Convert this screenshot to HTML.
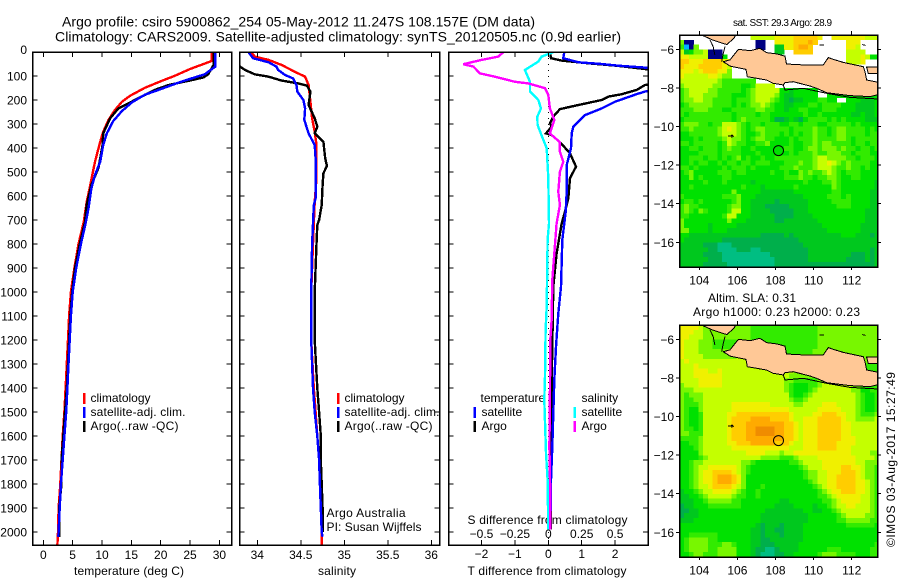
<!DOCTYPE html>
<html>
<head>
<meta charset="utf-8">
<title>Argo profile</title>
<style>
html,body{margin:0;padding:0;background:#fff;}
svg{display:block;}
text{font-family:"Liberation Sans",sans-serif;font-size:12px;fill:#000;}
</style>
</head>
<body>
<svg id="chart" width="900" height="580" viewBox="0 0 900 580" xmlns="http://www.w3.org/2000/svg">
<rect width="900" height="580" fill="#fff"/>
<defs>
<clipPath id="clip-temp"><rect x="32.5" y="52" width="199" height="493"/></clipPath>
<clipPath id="clip-sal"><rect x="239.5" y="52" width="200" height="493"/></clipPath>
<clipPath id="clip-diff"><rect x="448.5" y="52" width="199.5" height="493"/></clipPath>
<clipPath id="clip-sst"><rect x="679.5" y="35" width="198" height="232"/></clipPath>
<clipPath id="clip-sla"><rect x="679.5" y="325" width="198" height="232"/></clipPath>
</defs>
<text x="62" y="26.5" style="font-size:14px" textLength="473">Argo profile: csiro 5900862_254 05-May-2012 11.247S 108.157E (DM data)</text>
<text x="55" y="41.5" style="font-size:14px" textLength="566">Climatology: CARS2009. Satellite-adjusted climatology: synTS_20120505.nc (0.9d earlier)</text>
<text x="74" y="575" textLength="110">temperature (deg C)</text>
<text x="318" y="575" textLength="38">salinity</text>
<text x="467.5" y="575" textLength="159">T difference from climatology</text>
<text x="467.5" y="524" textLength="160">S difference from climatology</text>
<text x="90.5" y="402">climatology</text>
<text x="90.5" y="416" textLength="95">satellite-adj. clim.</text>
<text x="90.5" y="430" textLength="88">Argo(..raw -QC)</text>
<text x="344.5" y="402">climatology</text>
<text x="344.5" y="416" textLength="95">satellite-adj. clim.</text>
<text x="344.5" y="430" textLength="88">Argo(..raw -QC)</text>
<text x="326.5" y="517" textLength="79">Argo Australia</text>
<text x="326.5" y="531" textLength="95">PI: Susan Wijffels</text>
<text x="480.5" y="402">temperature</text>
<text x="481.5" y="416">satellite</text>
<text x="481.5" y="430">Argo</text>
<text x="581.5" y="402">salinity</text>
<text x="581.5" y="416">satellite</text>
<text x="581.5" y="430">Argo</text>
<text x="733" y="26" style="font-size:10px" textLength="99">sat. SST: 29.3 Argo: 28.9</text>
<text x="708" y="302" textLength="88">Altim. SLA: 0.31</text>
<text x="693" y="316" textLength="167">Argo h1000: 0.23 h2000: 0.23</text>
<text transform="translate(895,547) rotate(-90)" textLength="175">©IMOS 03-Aug-2017 15:27:49</text>
<g id="layer"></g>
</svg>
<script>
/* ---------- profile data ---------- */
const depthTicks = [0,100,200,300,400,500,600,700,800,900,1000,1100,1200,1300,1400,1500,1600,1700,1800,1900,2000];
const tempTicks = [0,5,10,15,20,25,30];
const salTicks = [34,34.5,35,35.5,36];
const salTickLabels = ["34","34.5","35","35.5","36"];
const tDiffTicks = [-2,-1,0,1,2];
const tDiffLabels = ["−2","−1","0","1","2"];
const sDiffTicks = [-0.5,-0.25,0,0.25,0.5];
const sDiffLabels = ["−0.5","−0.25","0","0.25","0.5"];
const lonTicks = [104,106,108,110,112];
const latTicks = [-6,-8,-10,-12,-14,-16];

const climTempDepth = [0,37,40,71,99,120,149,182,207,242,283,332,374,457,554,624,707,800,900,1000,1100,1200,1300,1400,1500,1600,1700,1800,1900,2000,2054];
const climTempValue = [28.7,28.7,28.4,25,22.4,20.2,17.3,14.8,13.4,12.2,11.1,10.2,9.7,8.8,8,7.4,6.9,6,5.3,4.7,4.4,4.2,4,3.8,3.6,3.3,3.1,2.9,2.6,2.5,2.4];
const satTempDepth = [0,61,93,106,128,153,178,210,246,288,340,388,457,513,568,651,714,800,900,1000,1100,1200,1300,1400,1500,1600,1700,1800,1900,2000,2020];
const satTempValue = [29.3,29.3,27.5,25.8,23,20.2,17.3,15.1,13.4,11.9,10.8,10.2,9.7,8.8,8.2,7.7,7.2,6.4,5.6,5,4.7,4.5,4.3,4.1,3.9,3.6,3.3,3,2.8,2.6,2.55];
const argoTempDepth = [0,54,93,106,117,138,158,200,235,276,339,387,483,553,637,707,800,900,1000,1100,1200,1300,1400,1500,1600,1700,1800,1900,2000,2020];
const argoTempValue = [29,29,28.1,27.3,25.3,21.3,19,15.6,12.8,11.4,10.2,10.1,9.4,8.2,7.4,7.1,6.2,5.4,4.9,4.6,4.4,4.2,4,3.7,3.4,3.1,3.1,2.7,2.7,2.7];

const climSalDepth = [1,19,33,54,82,103,138,207,276,332,388,526,624,800,1000,1200,1400,1500,1600,1700,1800,1900,2000,2054];
const climSalValue = [33.93,33.97,34.13,34.28,34.43,34.55,34.59,34.61,34.63,34.66,34.68,34.68,34.66,34.64,34.62,34.62,34.65,34.67,34.69,34.71,34.72,34.73,34.74,34.74];
const satSalDepth = [1,26,43,61,75,96,110,138,165,200,235,283,339,388,443,610,638,714,800,1000,1200,1400,1500,1600,1700,1800,1900,2000,2020];
const satSalValue = [33.9,33.95,34.13,34.22,34.24,34.32,34.41,34.45,34.46,34.53,34.55,34.54,34.59,34.66,34.67,34.67,34.65,34.64,34.63,34.62,34.62,34.64,34.66,34.69,34.71,34.72,34.73,34.74,34.75];
const argoSalDepth = [50,61,75,93,103,119,131,140,165,221,276,311,339,374,443,474,506,554,638,700,721,800,1000,1200,1400,1500,1600,1700,1800,1900,2000];
const argoSalValue = [33.7,33.8,33.86,33.97,34.13,34.28,34.47,34.57,34.61,34.59,34.66,34.69,34.66,34.76,34.78,34.8,34.76,34.75,34.74,34.71,34.69,34.68,34.66,34.66,34.69,34.71,34.73,34.73,34.74,34.75,34.75];

const satTDiffDepth = [1,26,43,50,57,65,80,110,150,165,176,207,235,263,311,339,401,471,582,665,714,783,978,1089,1228,1367,1506,1644,1783,1990];
const satTDiffValue = [0.48,0.45,0.9,1.6,2.1,2.89,4,5,3.5,2.89,2.64,2,1.6,1.1,0.75,0.7,0.68,0.55,0.55,0.52,0.48,0.42,0.38,0.3,0.23,0.18,0.15,0.12,0.08,0.06];
const argoTDiffDepth = [1,26,36,47,58,71,85,120,138,158,176,186,200,221,238,269,297,311,339,346,376,422,478,526,610,665,714,840,978,1228,1394,1506,1644,1783,1990];
const argoTDiffValue = [0.05,0.08,0.4,1.2,2.1,2.89,3.6,3.6,2.89,2.65,2.2,1.8,1.6,0.9,0.35,0.15,0.05,0.1,-0.07,0.1,0.35,0.65,0.83,0.65,0.6,0.5,0.4,0.25,0.15,0.12,0.1,0.1,0.06,0.05,0.08];
const satSDiffDepth = [1,19,40,75,124,165,200,235,269,304,367,401,526,714,783,1060,1160,1350,1450,1671,1783,1990];
const satSDiffValue = [0.037,-0.05,-0.075,-0.175,-0.137,-0.137,-0.075,-0.055,-0.082,-0.08,-0.037,-0.012,0,0.005,-0.005,-0.012,-0.02,-0.025,-0.03,-0.017,-0.005,0];
const argoSDiffDepth = [1,19,33,51,61,89,103,124,131,151,179,235,283,339,376,415,457,499,582,638,714,840,950,1117,1200,1450,1644,1852,1990];
const argoSDiffValue = [-0.337,-0.374,-0.499,-0.636,-0.561,-0.511,-0.399,-0.25,-0.15,-0.025,0,0.012,0.045,0.012,0.087,0.087,0.112,0.087,0.075,0.087,0.062,0.045,0.03,0.025,0.015,0.012,0.008,0.015,0.015];

/* ---------- map data: one character per 0.25 degree cell ---------- */
const sstRows = [
".......|.......|.666667|7778888|87..777|7777666",
"5nn....|.......|..nn..7|7778889|8......|777....",
"4mn5...|.......|..nn..2|2778998|.......|776....",
"623556n|nn.....|......2|2..8888|.......|6666...",
"776666n|nn3....|......1|.......|.......|6667633",
"8877788|8877...|.......|.......|.......|6667...",
"8777888|8876...|.......|.......|.......|.......",
"7776788|8775...|.......|.......|.......|.......",
"7666667|7655...|.......|.......|.......|.......",
"6666666|6544444|44.....|.......|.......|.......",
"5666666|5544443|346666.|.......|.......|.......",
"4566665|5444443|4566666|3323333|3......|.......",
"4566655|5444333|4566665|3223333|3..3333|3333333",
"4556655|4444344|4566654|3212233|34433..|3332223",
"3455555|4444343|4556543|3223334|4344443|3322223",
"4445554|4433444|4455443|3233443|3344433|3322223",
"4344444|4444344|4434433|3333343|3433333|3223223",
"3444444|4444345|4444431|1232134|4443434|3333222",
"4555443|4466654|3443444|3344344|4334444|4343333",
"4454444|4567654|3455444|4434444|5443455|4444343",
"3344444|4566654|3345444|3434344|5443455|4444344",
"3334344|4456554|3455443|3343444|5444455|4344444",
"4434444|4346544|3344533|3343344|5455444|4344344",
"3344344|4345443|3433333|3443345|5455545|4434434",
"3333444|4344443|3343333|3343444|5445554|4344433",
"3344434|4343453|4334334|4444444|5665555|4434443",
"3343443|3434434|4344433|3444544|5667654|5444433",
"4434333|3343444|3433333|4445444|5666544|5443433",
"3453333|3444344|3333343|3433545|4456543|4443333",
"3353433|3344333|3333333|3444544|3445543|3443333",
"3333343|3343333|3233333|3333343|3344543|3333332",
"3343333|3333334|3332333|3334333|3333543|3333332",
"3333333|3333533|3332222|2223333|3333443|3333322",
"4333333|3344453|3322222|2222233|3334443|4333322",
"3443433|3333453|3222221|2222223|3333444|4333322",
"4544333|3334553|3222111|1122223|3333344|4333322",
"4543543|3334663|3222211|1112223|3333333|3333222",
"4433333|3346633|3222221|1112222|3333333|3333222",
"5333333|3335333|2222221|1222222|2333333|3333222",
"5333332|3333322|2222222|2222222|2233333|3332222",
"5533332|3332222|2222222|2222222|2223333|3332222",
"3322222|2222222|2221111|1212222|2222223|3322212",
"3222222|2211111|1111111|1111222|2222222|2222222",
"2222211|1000111|1111111|1111122|2222222|2222222",
"2222221|1000011|1001111|1111112|2222222|2222212",
"2222211|1100000|0000011|1111112|2222222|2111212",
"2222221|1100000|0000001|1111112|2222222|1111212",
"2222211|1110000|0000001|1111111|1111111|1111112"
];
const slaRows = [
"7777655|5555555|5444444|4444444|4555555|5555555",
"7776655|5555555|5444444|4444444|4555555|5555555",
"7766655|5555555|5444444|4444444|4555555|5555555",
"7666555|4444455|5444444|4444444|4555555|5555555",
"7666555|4444455|5544444|4444444|4555555|5555555",
"7666555|5555555|5544444|4444444|5555555|5555555",
"7666655|5555566|6655555|5555555|5555555|5555555",
"6766666|6666666|6666666|6666666|6666666|6666555",
"6667666|6666666|6666666|6666666|6666666|6664444",
"6667776|6766666|6666666|6665555|5555555|5554444",
"6667777|7766666|6666666|6655555|5555555|5554444",
"6666777|7766666|6666666|6554444|4555555|5554444",
"5666777|7766666|6666666|6543334|4566666|6554444",
"5556666|6666666|6666666|6543334|5666666|6553344",
"5455566|6666666|6666666|6643345|6666666|6654334",
"5445566|6666666|6666666|6654456|6666666|6654334",
"5444566|6666777|7777766|6665566|6677766|6654334",
"5433566|6666777|7777777|7766666|6777776|6654334",
"5433466|6667788|8888888|8876666|7788877|6654445",
"5433466|6667888|8999988|8876677|7888887|6655556",
"5433466|6667888|9999999|9887677|7888887|7666666",
"5443466|6667888|99AAAA9|9887677|7888887|7666666",
"5544466|6667888|99AAAA9|9887677|7888887|7666666",
"4444566|6667888|9999999|9887677|7888887|7766666",
"3344566|6667788|8999998|8876677|7888877|7766666",
"3334566|6666777|7777777|7766677|7888877|7666666",
"3333566|6666666|7777666|5667777|7777777|7666655",
"3333456|6666666|6665555|4445666|6777777|7766665",
"3345566|6666665|5433333|3344566|6677777|7766555",
"3345667|7777765|4333333|3333456|6677778|8776554",
"3345677|8888765|4333333|3333345|5667778|8876554",
"3345677|8999875|3333333|3333345|5667788|8876554",
"3345677|8999875|3333333|3333334|5667788|8877654",
"3345667|8888765|3334333|3333333|4567788|8877654",
"2334566|7777654|3343333|3333333|3456778|8877654",
"2233456|6666544|3343333|3333333|3445677|7776654",
"2223345|5555443|3333333|2233333|3344567|7776654",
"1223334|4444443|3333332|2223333|2334566|7766654",
"1122333|3333333|3333222|2222233|2233456|6666654",
"1222333|3333333|3332222|2222223|3333345|6666554",
"2223333|3333333|3332222|2222223|3333344|5555544",
"3333333|3333333|3321222|1222233|3333333|4444443",
"3333333|3333333|3221221|1222233|3333333|3333333",
"3344444|4333333|3221222|1222233|3333333|3333333",
"3455554|4333333|3221122|2222233|3333333|3333333",
"3455554|4455433|3221112|2222333|3333333|3333334",
"3455554|4555533|3211001|2222333|3334443|3333344",
"3345544|4555533|3210001|1223333|3455544|4433344"
];
/* coastlines as longitude, latitude pairs */
const javaCoast = [[106.05,-6],[106.66,-6.07],[107.18,-5.95],[107.53,-6.17],[108.06,-6.24],[108.5,-6.35],[108.58,-6.76],[109.46,-6.81],[110.51,-6.81],[110.77,-6.43],[111.03,-6.52],[111.56,-6.68],[112.61,-6.9],[112.7,-7.16],[112.78,-7.59],[113.5,-7.73],[113.5,-8.32],[112.96,-8.45],[111.91,-8.4],[110.68,-8.25],[110.16,-8.02],[109.81,-7.9],[108.93,-7.68],[108.5,-7.73],[108.41,-7.85],[107.88,-7.76],[107.53,-7.59],[106.52,-7.42],[106.45,-7.04],[105.61,-6.87],[105.26,-6.64],[105.61,-6.55]];
const maduraCoast = [[112.78,-6.93],[113.5,-6.9],[113.5,-7.25],[112.87,-7.25]];
const sumatraCoast = [[104,-5.2],[105.9,-5.2],[105.85,-5.4],[105.45,-5.75],[105.25,-5.7],[104.65,-5.5]];
const southShoreLine = [[108.41,-7.85],[108.5,-8.11],[109.46,-8.02],[110.68,-8.28],[111.91,-8.49],[113.5,-8.58]];
const straitLine = [[104.56,-5.52],[104.73,-5.86],[104.82,-6.3]];
const straitLine2 = [[105.35,-5.86],[105.26,-6.21],[105.17,-6.64]];
const christmasIsland = [[105.5,-10.5],[105.66,-10.5],[105.72,-10.44],[105.78,-10.52],[105.66,-10.56]];
const isletA = [[110.3,-5.78],[110.55,-5.78]];
const isletB = [[112.55,-5.75],[112.72,-5.8]];
const profileLon = 108.157;
const profileLat = -11.247;

/* ---------- axis functions ---------- */
function depthY(d){ return 52 + 0.24*d; }
function tempX(t){ return 43.3 + 5.87*t; }
function salX(s){ return 257.3 + 87*(s-34); }
function tDiffX(v){ return 548.3 + 33.4*v; }
function sDiffX(v){ return 548.3 + 133.6*v; }
function lonX(lon){ return 699.3 + 19.05*(lon-104); }
function latOffsetY(top){ return function(lat){ return top + 14.3 + 19.3*(-6-lat); }; }
const sstY = latOffsetY(35);
const slaY = latOffsetY(325);

const NS = "http://www.w3.org/2000/svg";
const layer = document.getElementById("layer");
function el(tag, attrs, parent){
  const e = document.createElementNS(NS, tag);
  for (const k in attrs) e.setAttribute(k, attrs[k]);
  (parent || layer).appendChild(e);
  return e;
}
function drawProfile(depths, values, xFn, color, clip, name){
  const pts = depths.map(function(d,i){ return xFn(values[i]).toFixed(1)+","+depthY(d).toFixed(1); }).join(" ");
  const line = el("polyline",{points:pts,fill:"none",stroke:color,"stroke-width":2.4,"shape-rendering":"crispEdges","clip-path":"url(#"+clip+")"});
  
  
}
function drawFrame(x0,x1,y0,y1,name){
  const r = el("rect",{x:x0,y:y0,width:x1-x0,height:y1-y0,fill:"none",stroke:"#000","stroke-width":1.5,"shape-rendering":"crispEdges"});
  
  
}
function tickLine(x1,y1,x2,y2){
  const t = el("line",{x1:x1,y1:y1,x2:x2,y2:y2,stroke:"#000","stroke-width":1,"shape-rendering":"crispEdges"});
  
  
}
function label(x,y,str,anchor){
  const t = el("text",{x:x,y:y,"text-anchor":anchor});
  t.textContent = str;
  
  
}
function swatch(x,y,color){
  const s = el("rect",{x:x,y:y,width:2.6,height:11,fill:color,"shape-rendering":"crispEdges"});
  
  
}
function profileAxes(x0,x1,xFn,ticks,labels,labelY,name){
  drawFrame(x0,x1,52,545,name);
  depthTicks.forEach(function(d){
    tickLine(x0,depthY(d),x0+5,depthY(d));
    tickLine(x1-5,depthY(d),x1,depthY(d));
  });
  ticks.forEach(function(v,i){
    tickLine(xFn(v),52,xFn(v),57);
    tickLine(xFn(v),540,xFn(v),545);
    label(xFn(v),labelY,labels[i],"middle");
  });
}

/* ---------- temperature panel ---------- */
drawProfile(climTempDepth,climTempValue,tempX,"#ff0000","clip-temp","climatology-temperature-line");
drawProfile(argoTempDepth,argoTempValue,tempX,"#000000","clip-temp","argo-temperature-line");
drawProfile(satTempDepth,satTempValue,tempX,"#0000ff","clip-temp","satellite-temperature-line");
profileAxes(32.5,231.5,tempX,tempTicks,tempTicks.map(String),559,"temperature-panel-frame");
depthTicks.forEach(function(d){ label(27,depthY(d)+(d===0?2:4.5),String(d),"end"); });
swatch(83,393,"#ff0000"); swatch(83,407,"#0000ff"); swatch(83,421,"#000000");

/* ---------- salinity panel ---------- */
drawProfile(climSalDepth,climSalValue,salX,"#ff0000","clip-sal","climatology-salinity-line");
drawProfile(argoSalDepth,argoSalValue,salX,"#000000","clip-sal","argo-salinity-line");
drawProfile(satSalDepth,satSalValue,salX,"#0000ff","clip-sal","satellite-salinity-line");
profileAxes(239.5,439.5,salX,salTicks,salTickLabels,559,"salinity-panel-frame");
swatch(337,393,"#ff0000"); swatch(337,407,"#0000ff"); swatch(337,421,"#000000");

/* ---------- difference panel ---------- */
depthTicks.forEach(function(d){
  for (let k=0;k<4;k++){
    const dot = el("rect",{x:tDiffX(0)-0.5,y:depthY(d)+k*6,width:1,height:1,fill:"#000","shape-rendering":"crispEdges"});
    
    
  }
});
drawProfile(argoTDiffDepth,argoTDiffValue,tDiffX,"#000000","clip-diff","argo-temperature-difference-line");
drawProfile(satTDiffDepth,satTDiffValue,tDiffX,"#0000ff","clip-diff","satellite-temperature-difference-line");
drawProfile(satSDiffDepth,satSDiffValue,sDiffX,"#00ffff","clip-diff","satellite-salinity-difference-line");
drawProfile(argoSDiffDepth,argoSDiffValue,sDiffX,"#ff00ff","clip-diff","argo-salinity-difference-line");
profileAxes(448.5,648,tDiffX,tDiffTicks,tDiffLabels,558,"difference-panel-frame");
sDiffTicks.forEach(function(v,i){ label(sDiffX(v),538,sDiffLabels[i],"middle"); });
swatch(473.5,407,"#0000ff"); swatch(473.5,421,"#000000");
swatch(573.5,407,"#00ffff"); swatch(573.5,421,"#ff00ff");

/* ---------- maps ---------- */
const levelChars = "0123456789A";
const levelColors = ["#00be82","#00af4b","#00c81e","#00e100","#32eb00","#78f700","#c4ff00","#f0f000","#ffcd00","#ffaa00","#f08c00"];
function cellColor(ch){
  if (ch === "n") return "#000082";
  if (ch === "m") return "#00b4ff";
  const idx = levelChars.indexOf(ch);
  return idx < 0 ? null : levelColors[idx];
}
function polyPoints(coords,yFn){
  return coords.map(function(c){ return lonX(c[0]).toFixed(1)+","+yFn(c[1]).toFixed(1); }).join(" ");
}
function drawMap(rows,yFn,clip,top,bottom,name){
  const g = el("g",{"clip-path":"url(#"+clip+")"});
  
  
  rows.forEach(function(row,r){
    const cells = row.replace(/\|/g,"");
    for (let c=0;c<cells.length;c++){
      const col = cellColor(cells.charAt(c));
      if (!col) continue;
      const lon = 102.95 + 0.25*c;
      const lat = -5.26 - 0.25*r;
      const cell = el("rect",{x:lonX(lon).toFixed(2),y:yFn(lat).toFixed(2),width:lonX(lon+0.25)-lonX(lon)+0.4,height:yFn(lat-0.25)-yFn(lat)+0.4,fill:col,"shape-rendering":"crispEdges"},g);
      
      
    }
  });
  [javaCoast,maduraCoast,sumatraCoast].forEach(function(coast){
    const land = el("polygon",{points:polyPoints(coast,yFn),fill:"#ffc896",stroke:"#000","stroke-width":1,"shape-rendering":"crispEdges"},g);
    
    
  });
  [southShoreLine,straitLine,straitLine2,christmasIsland,isletA,isletB].forEach(function(shore){
    const s = el("polyline",{points:polyPoints(shore,yFn),fill:"none",stroke:"#000","stroke-width":1,"shape-rendering":"crispEdges"},g);
    
    
  });
  const marker = el("circle",{cx:lonX(profileLon),cy:yFn(profileLat),r:5,fill:"none",stroke:"#000","stroke-width":1});
  
  
  drawFrame(679.5,877.5,top,bottom,name+'-frame');
  lonTicks.forEach(function(lon){
    tickLine(lonX(lon),top-4,lonX(lon),top);
    tickLine(lonX(lon),bottom,lonX(lon),bottom+3);
    label(lonX(lon),bottom+17.5,String(lon),"middle");
  });
  latTicks.forEach(function(lat){
    tickLine(676,yFn(lat),679.5,yFn(lat));
    tickLine(877.5,yFn(lat),881,yFn(lat));
    label(674,yFn(lat)+4.5,"−"+Math.abs(lat),"end");
  });
}
drawMap(sstRows,sstY,"clip-sst",35,267,"sst-map");
drawMap(slaRows,slaY,"clip-sla",325,557,"sla-map");
</script>
</body>
</html>
